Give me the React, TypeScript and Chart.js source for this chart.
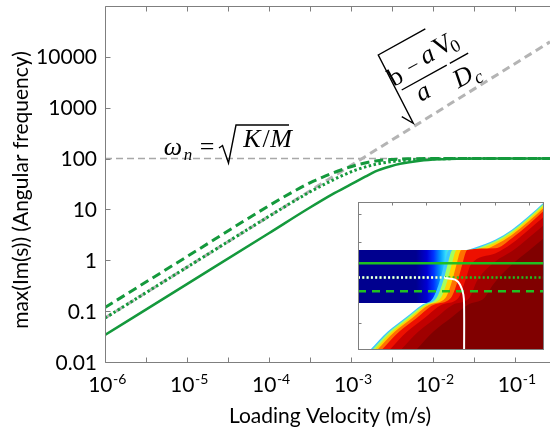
import React, { useEffect, useRef } from 'react';
import { Chart, registerables } from 'chart.js';

Chart.register(...registerables);

// ---------------- main plot: max Im(s) against loading velocity ----------------
const velocityMin = 1e-6;
const velocityMax = 0.27;
const freqMin = 0.01;
const freqMax = 1e5;

const velSolid = [1e-6, 1e-5, 1e-4, 3e-4, 6e-4, 1e-3, 1.5e-3, 2e-3, 3e-3, 4e-3, 7e-3, 1.2e-2, 2e-2, 4e-2, 0.27];
const freqSolid = [0.034, 0.34, 3.4, 10.3, 20, 31, 44, 56, 70, 79, 90.5, 96.5, 99, 100, 100];

const velDashed = [1e-6, 1e-5, 1e-4, 2e-4, 3.5e-4, 5e-4, 7e-4, 1e-3, 1.4e-3, 2e-3, 3e-3, 5e-3, 1e-2, 0.27];
const freqDashed = [0.118, 1.18, 11.8, 22.5, 36, 46, 57, 69, 80, 89.5, 95.5, 99, 100, 100];

const velDotted = [1e-6, 1e-5, 1e-4, 3e-4, 5e-4, 7.8e-4, 1.2e-3, 2e-3, 3.2e-3, 5e-3, 8e-3, 1.5e-2, 3e-2, 0.27];
const freqDotted = [0.073, 0.73, 7.3, 21, 32.5, 46, 61, 77, 87.5, 93.5, 97.5, 99.5, 100, 100];

// natural frequency sqrt(K/M)
const velNatural = [1e-6, 0.27];
const freqNatural = [100, 100];

// quasi-static branch sqrt((b-a)/a * V0/Dc)
const velStatic = [1e-6, 0.27];
const freqStatic = [0.073, 19700];

const yTickValues = [0.01, 0.1, 1, 10, 100, 1000, 10000];
const yTickLabels = ['0.01', '0.1', '1', '10', '100', '1000', '10000'];
const xTickValues = [1e-6, 1e-5, 1e-4, 1e-3, 1e-2, 1e-1];
const xTickExponents = ['-6', '-5', '-4', '-3', '-2', '-1'];
const xMinorTickValues = [3.16e-6, 3.16e-5, 3.16e-4, 3.16e-3, 3.16e-2];

// ---------------- inset: stability map (x = log10 velocity) ----------------
const insetXRange = [-6, -0.55];
const insetYRange = [0, 5.46];
const insetXTicks = [-5, -4, -3, -2, -1];
const insetYTicks = [1, 2, 3, 4, 5];

const bandTop = 3.69;
const bandBottom = 1.734;
const bandStopX = [-6, -4.3, -3.98, -3.78, -3.6, -3.43, -3.2, -2.9];
const bandStopColors = ['#00008f', '#00008f', '#0000d4', '#0034ff', '#0094ff', '#34dcff', '#a0ff60', '#ff2000'];

type Pt = [number, number];

// contour levels of the growth-rate field, outermost first
const edgeCyan: Pt[] = [[-5.648, 0], [-5.12, 0.69], [-4.622, 1.181], [-4.123, 1.672], [-3.801, 1.919], [-3.595, 2.583], [-3.478, 3.137], [-3.331, 3.69], [-2.833, 3.69], [-2.569, 3.782], [-2.276, 3.911], [-1.982, 4.07], [-1.493, 4.439], [-1.006, 4.934], [-0.545, 5.46]];
const edgeGreen: Pt[] = [[-5.59, 0], [-5.062, 0.69], [-4.563, 1.181], [-4.065, 1.672], [-3.7, 1.919], [-3.495, 2.583], [-3.378, 3.137], [-3.231, 3.69], [-2.833, 3.69], [-2.569, 3.73], [-2.276, 3.86], [-1.982, 4.018], [-1.493, 4.387], [-1.006, 4.881], [-0.545, 5.41]];
const edgeYellow: Pt[] = [[-5.52, 0], [-4.99, 0.69], [-4.49, 1.181], [-3.99, 1.672], [-3.58, 1.919], [-3.375, 2.583], [-3.258, 3.137], [-3.11, 3.69], [-2.72, 3.69], [-2.276, 3.8], [-1.982, 3.955], [-1.493, 4.324], [-1.006, 4.82], [-0.545, 5.345]];
const edgeOrange: Pt[] = [[-5.44, 0], [-4.91, 0.69], [-4.41, 1.181], [-3.91, 1.672], [-3.44, 1.919], [-3.235, 2.583], [-3.118, 3.137], [-2.97, 3.69], [-2.481, 3.69], [-2.276, 3.71], [-1.982, 3.875], [-1.493, 4.245], [-1.006, 4.74], [-0.545, 5.265]];
const edgeRed: Pt[] = [[-5.31, 0], [-4.78, 0.69], [-4.28, 1.181], [-3.78, 1.672], [-3.28, 1.919], [-3.07, 2.583], [-2.95, 3.137], [-2.8, 3.69], [-1.982, 3.75], [-1.493, 4.125], [-1.006, 4.62], [-0.545, 5.15]];
const edgeCrimson: Pt[] = [[-5.08, 0], [-4.55, 0.69], [-4.05, 1.181], [-3.55, 1.672], [-3.06, 1.919], [-2.85, 2.583], [-2.7, 3.137], [-1.982, 3.56], [-1.493, 3.93], [-1.006, 4.43], [-0.545, 4.92]];
const edgeMaroon: Pt[] = [[-4.75, 0], [-4.22, 0.69], [-3.72, 1.181], [-3.22, 1.672], [-2.74, 1.919], [-2.5, 2.583], [-1.982, 3.26], [-1.493, 3.64], [-1.006, 4.13], [-0.545, 4.62]];
const edgeDark: Pt[] = [[-4.3, 0], [-3.78, 0.69], [-3.28, 1.181], [-2.78, 1.672], [-2.3, 1.919], [-2.05, 2.399], [-1.493, 3.15], [-1.006, 3.65], [-0.545, 4.14]];

const edgeLayers = [edgeCyan, edgeGreen, edgeYellow, edgeOrange, edgeRed, edgeCrimson, edgeMaroon, edgeDark];
const edgeColors = ['#3cc8ff', '#a4ff5c', '#ffd400', '#ff7000', '#ee1000', '#c20000', '#a00000', '#800000'];

const insetSolidLevel = 3.2;
const insetDottedLevel = 2.675;
const insetDashedLevel = 2.166;

const whiteDottedX = [-6, -3.449];
const whiteDottedY = [2.675, 2.675];
const whiteCurve: Pt[] = [[-3.449, 2.657], [-3.155, 2.594], [-3.009, 2.41], [-2.912, 2.041], [-2.891, 1.55], [-2.891, 0]];

// ---------------- styles ----------------
const AXIS_GRAY = '#7f7f7f';
const MAIN_GREEN = '#14993c';
const INSET_GREEN = '#1fc021';
const SANS = 'Lato, "Open Sans", sans-serif';
const SERIF = '"Liberation Serif", "DejaVu Serif", serif';

const pairs = (xs: number[], ys: number[]) => xs.map((x, i) => ({ x, y: ys[i] }));
const ptsOf = (p: Pt[]) => p.map(([x, y]) => ({ x, y }));

function glyph(ctx: CanvasRenderingContext2D, text: string, font: string, x: number, y: number, angle = 0) {
  ctx.save();
  ctx.translate(x, y);
  ctx.rotate(angle);
  ctx.font = font;
  ctx.textAlign = 'center';
  ctx.textBaseline = 'middle';
  ctx.fillText(text, 0, 0);
  ctx.restore();
}

const mainDecor = {
  id: 'mainDecor',
  afterDraw(chart: any) {
    const { ctx, chartArea: a, scales } = chart;
    const xs = scales.x;
    const ys = scales.y;
    const L = Math.round(a.left) + 0.5;
    const B = Math.round(a.bottom) + 0.5;
    const T = Math.round(a.top) + 0.5;
    const R = a.right;

    ctx.save();
    ctx.strokeStyle = AXIS_GRAY;
    ctx.lineWidth = 1;
    ctx.beginPath();
    ctx.moveTo(L, T); ctx.lineTo(R, T);
    ctx.moveTo(L, T); ctx.lineTo(L, B);
    ctx.moveTo(L, B); ctx.lineTo(R, B);
    [...xTickValues, ...xMinorTickValues].forEach((v) => {
      const px = Math.round(xs.getPixelForValue(v)) + 0.5;
      ctx.moveTo(px, B); ctx.lineTo(px, B - 5);
      ctx.moveTo(px, T); ctx.lineTo(px, T + 5);
    });
    yTickValues.forEach((v) => {
      const py = Math.round(ys.getPixelForValue(v)) + 0.5;
      ctx.moveTo(L, py); ctx.lineTo(L + 5, py);
    });
    ctx.stroke();

    // tick labels
    ctx.fillStyle = '#000';
    ctx.textBaseline = 'alphabetic';
    ctx.font = `21px ${SANS}`;
    ctx.textAlign = 'right';
    yTickValues.forEach((v, i) => {
      const py = ys.getPixelForValue(v);
      ctx.fillText(yTickLabels[i], 97, py + 7.5);
    });
    ctx.textAlign = 'left';
    xTickValues.forEach((v, i) => {
      const px = xs.getPixelForValue(v);
      ctx.font = `21px ${SANS}`;
      const w1 = ctx.measureText('10').width;
      ctx.font = `14px ${SANS}`;
      const w2 = ctx.measureText(xTickExponents[i]).width;
      const x0 = px - (w1 + w2) / 2 + 2;
      ctx.font = `21px ${SANS}`;
      ctx.fillText('10', x0, 392);
      ctx.font = `14px ${SANS}`;
      ctx.fillText(xTickExponents[i], x0 + w1 + 0.5, 384);
    });

    // axis titles
    ctx.font = `21px ${SANS}`;
    ctx.textAlign = 'center';
    ctx.fillText('Loading Velocity (m/s)', 330, 423);
    ctx.save();
    ctx.translate(28, 190);
    ctx.rotate(-Math.PI / 2);
    ctx.fillText('max(Im(s)) (Angular frequency)', 0, 0);
    ctx.restore();

    // natural frequency label
    ctx.fillStyle = '#000';
    ctx.strokeStyle = '#000';
    ctx.lineWidth = 1.4;
    ctx.textBaseline = 'alphabetic';
    ctx.textAlign = 'center';
    ctx.font = `italic 26px ${SERIF}`;
    ctx.fillText('ω', 173, 155);
    ctx.font = `italic 17px ${SERIF}`;
    ctx.fillText('n', 188, 160);
    ctx.font = `26px ${SERIF}`;
    ctx.fillText('=', 207, 155);
    ctx.beginPath();
    ctx.moveTo(219, 148); ctx.lineTo(222.5, 145.5); ctx.lineTo(228.5, 163); ctx.lineTo(236, 125); ctx.lineTo(289, 125);
    ctx.stroke();
    ctx.font = `italic 26px ${SERIF}`;
    ctx.fillText('K', 252, 147);
    ctx.font = `26px ${SERIF}`;
    ctx.fillText('/', 266, 147);
    ctx.font = `italic 26px ${SERIF}`;
    ctx.fillText('M', 281, 147);

    // quasi-static branch label, laid along the dashed line
    const ang = (-29 * Math.PI) / 180;
    ctx.save();
    ctx.translate(401.7, 90);
    ctx.rotate(ang);
    ctx.beginPath();
    ctx.moveTo(-12.9, 23.4); ctx.lineTo(-6, 34.7); ctx.lineTo(-3.5, -42); ctx.lineTo(50.3, -42);
    ctx.moveTo(0, 0); ctx.lineTo(51.5, 0);
    ctx.moveTo(55, 0); ctx.lineTo(76, 0);
    ctx.stroke();
    ctx.restore();
    glyph(ctx, 'b', `26px ${SERIF}`, 396, 78, ang);
    glyph(ctx, '−', `22px ${SERIF}`, 413.5, 67.5, ang);
    glyph(ctx, 'a', `italic 26px ${SERIF}`, 427.5, 56, ang);
    glyph(ctx, 'V', `26px ${SERIF}`, 443.5, 46, ang);
    glyph(ctx, '0', `18px ${SERIF}`, 456, 47, ang);
    glyph(ctx, 'a', `italic 26px ${SERIF}`, 423.3, 93, ang);
    glyph(ctx, 'D', `italic 26px ${SERIF}`, 463.3, 78, ang);
    glyph(ctx, 'c', `italic 19px ${SERIF}`, 479, 78, ang);
    ctx.restore();
  },
};

const insetFrame = {
  id: 'insetFrame',
  beforeDraw(chart: any) {
    const { ctx, width, height } = chart;
    ctx.save();
    ctx.fillStyle = '#fff';
    ctx.fillRect(0, 0, width, height);
    ctx.restore();
  },
  beforeDatasetsDraw(chart: any) {
    const { ctx, chartArea: a, scales } = chart;
    ctx.save();
    ctx.strokeStyle = AXIS_GRAY;
    ctx.lineWidth = 1;
    ctx.beginPath();
    insetXTicks.forEach((v) => {
      const px = Math.round(scales.x.getPixelForValue(v)) + 0.5;
      ctx.moveTo(px, a.top); ctx.lineTo(px, a.top + 3.5);
      ctx.moveTo(px, a.bottom); ctx.lineTo(px, a.bottom - 3.5);
    });
    insetYTicks.forEach((v) => {
      const py = Math.round(scales.y.getPixelForValue(v)) + 0.5;
      ctx.moveTo(a.left, py); ctx.lineTo(a.left + 3.5, py);
    });
    ctx.stroke();
    ctx.restore();
  },
  afterDraw(chart: any) {
    const { ctx, width, height } = chart;
    ctx.save();
    ctx.strokeStyle = AXIS_GRAY;
    ctx.lineWidth = 1;
    ctx.strokeRect(0.5, 0.5, width - 1, height - 1);
    ctx.restore();
  },
};

const bandGradient = (c: any) => {
  const chart = c.chart;
  const xs = chart.scales && chart.scales.x;
  if (!chart.chartArea || !xs) return bandStopColors[0];
  const x0 = xs.getPixelForValue(insetXRange[0]);
  const x1 = xs.getPixelForValue(insetXRange[1]);
  const g = chart.ctx.createLinearGradient(x0, 0, x1, 0);
  bandStopX.forEach((v, i) => {
    const t = Math.min(1, Math.max(0, (xs.getPixelForValue(v) - x0) / (x1 - x0)));
    g.addColorStop(t, bandStopColors[i]);
  });
  return g;
};

export default function App() {
  const mainRef = useRef<HTMLCanvasElement>(null);
  const insetRef = useRef<HTMLCanvasElement>(null);

  useEffect(() => {
    const main = new Chart(mainRef.current as HTMLCanvasElement, {
      type: 'line',
      data: {
        datasets: [
          { data: pairs(velNatural, freqNatural), borderColor: '#a8a8a8', borderWidth: 1.5, borderDash: [7, 4], order: 5 },
          { data: pairs(velStatic, freqStatic), borderColor: '#b4b4b4', borderWidth: 3, borderDash: [8, 5], order: 4 },
          { data: pairs(velSolid, freqSolid), borderColor: MAIN_GREEN, borderWidth: 2.5, cubicInterpolationMode: 'monotone', order: 3 },
          { data: pairs(velDashed, freqDashed), borderColor: MAIN_GREEN, borderWidth: 3, borderDash: [9, 5], cubicInterpolationMode: 'monotone', order: 2 },
          { data: pairs(velDotted, freqDotted), borderColor: MAIN_GREEN, borderWidth: 3, borderDash: [2.5, 2.5], cubicInterpolationMode: 'monotone', order: 1 },
        ] as any,
      },
      options: {
        responsive: false,
        animation: false,
        devicePixelRatio: 1,
        events: [],
        layout: { padding: { left: 105, top: 6, right: 0, bottom: 76 } },
        elements: { point: { radius: 0 }, line: { fill: false, borderCapStyle: 'butt' } },
        scales: {
          x: { type: 'logarithmic', min: velocityMin, max: velocityMax, display: false },
          y: { type: 'logarithmic', min: freqMin, max: freqMax, display: false },
        },
        plugins: { legend: { display: false }, tooltip: { enabled: false } },
      } as any,
      plugins: [mainDecor],
    });

    const layerSets = edgeLayers.map((pts, i) => ({
      data: ptsOf(pts),
      fill: 'start',
      backgroundColor: edgeColors[i],
      borderColor: 'rgba(0,0,0,0)',
      borderWidth: 0,
      cubicInterpolationMode: 'monotone',
      order: 29 - i,
    }));

    const inset = new Chart(insetRef.current as HTMLCanvasElement, {
      type: 'line',
      data: {
        datasets: [
          {
            data: [{ x: insetXRange[0], y: bandTop }, { x: insetXRange[1], y: bandTop }],
            fill: { value: bandBottom },
            backgroundColor: bandGradient,
            borderColor: 'rgba(0,0,0,0)',
            borderWidth: 0,
            order: 30,
          },
          ...layerSets,
          { data: [{ x: insetXRange[0], y: insetSolidLevel }, { x: insetXRange[1], y: insetSolidLevel }], borderColor: INSET_GREEN, borderWidth: 2.5, order: 5 },
          { data: [{ x: insetXRange[0], y: insetDottedLevel }, { x: insetXRange[1], y: insetDottedLevel }], borderColor: INSET_GREEN, borderWidth: 2.5, borderDash: [2, 2.3], order: 4 },
          { data: [{ x: insetXRange[0], y: insetDashedLevel }, { x: insetXRange[1], y: insetDashedLevel }], borderColor: INSET_GREEN, borderWidth: 2.5, borderDash: [8, 6], order: 3 },
          { data: pairs(whiteDottedX, whiteDottedY), borderColor: '#ffffff', borderWidth: 2.3, borderDash: [2, 2.3], order: 2 },
          { data: ptsOf(whiteCurve), borderColor: '#ffffff', borderWidth: 2, tension: 0.4, order: 1 },
        ] as any,
      },
      options: {
        responsive: false,
        animation: false,
        devicePixelRatio: 1,
        events: [],
        layout: { padding: 0 },
        elements: { point: { radius: 0 }, line: { borderCapStyle: 'butt' } },
        scales: {
          x: { type: 'linear', min: insetXRange[0], max: insetXRange[1], display: false },
          y: { type: 'linear', min: insetYRange[0], max: insetYRange[1], display: false },
        },
        plugins: { legend: { display: false }, tooltip: { enabled: false } },
      } as any,
      plugins: [insetFrame],
    });

    return () => {
      main.destroy();
      inset.destroy();
    };
  }, []);

  return (
    <div style={{ position: 'absolute', left: 0, top: 0, width: 550, height: 438, background: '#fff' }}>
      <canvas ref={mainRef} width={550} height={438} style={{ position: 'absolute', left: 0, top: 0 }} />
      <canvas ref={insetRef} width={186} height={148} style={{ position: 'absolute', left: 358, top: 202 }} />
    </div>
  );
}
